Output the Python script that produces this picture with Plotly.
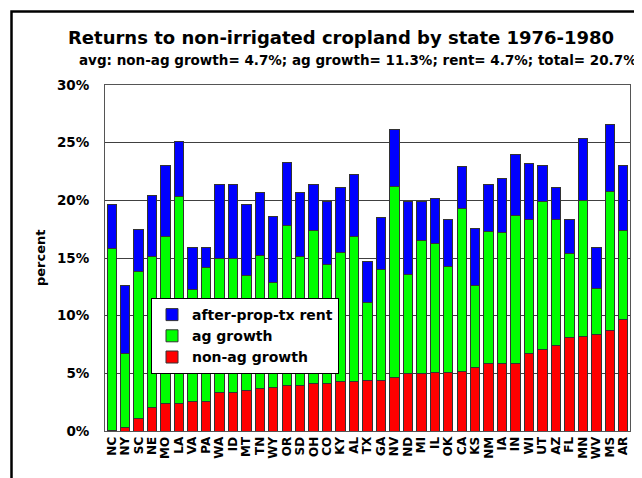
import plotly.graph_objects as go

states = ["NC", "NY", "SC", "NE", "MO", "LA", "VA", "PA", "WA", "ID",
          "MT", "TN", "WY", "OR", "SD", "OH", "CO", "KY", "AL", "TX",
          "GA", "NV", "ND", "MI", "IL", "OK", "CA", "KS", "NM", "IA",
          "IN", "WI", "UT", "AZ", "FL", "MN", "WV", "MS", "AR"]

non_ag_growth = [0.05, 0.29, 1.07, 2.08, 2.37, 2.37, 2.6, 2.6, 3.38, 3.38,
                 3.53, 3.67, 3.8, 3.96, 3.96, 4.1, 4.1, 4.25, 4.25, 4.35,
                 4.4, 4.6, 4.97, 4.97, 5.06, 5.06, 5.2, 5.49, 5.84, 5.84,
                 5.84, 6.76, 7.05, 7.43, 8.09, 8.21, 8.35, 8.73, 9.65]

ag_growth = [15.75, 6.41, 12.72, 13.01, 14.53, 17.92, 9.65, 11.56, 11.56, 11.56,
             9.97, 11.56, 9.1, 13.84, 11.13, 13.3, 10.35, 11.21, 12.65, 6.83,
             9.6, 16.6, 8.58, 11.56, 11.24, 9.24, 14.08, 7.14, 11.46, 11.36,
             12.86, 11.56, 12.86, 10.89, 7.34, 11.79, 3.99, 12.07, 7.75]

rent = [3.85, 5.93, 3.67, 5.34, 6.13, 4.81, 3.65, 1.74, 6.42, 6.42,
        6.15, 5.43, 5.7, 5.5, 5.61, 3.96, 5.41, 5.64, 5.35, 3.52,
        4.55, 4.96, 6.31, 3.33, 3.9, 4.05, 3.67, 4.97, 4.06, 4.68,
        5.29, 4.86, 3.12, 2.78, 2.92, 5.38, 3.56, 5.8, 5.63]

FONT = "DejaVu Sans, Verdana, sans-serif"
outline = dict(color="#333333", width=1)

# page body has an 8px margin, so the figure is drawn 8px smaller
# and the plot box (105..630 x 85..431 in the window) is kept in place
PX0, PX1, PY0, PY1 = 105, 630, 85, 431


def px(x):
    return (x - PX0) / (PX1 - PX0)


def py(y):
    return (PY1 - y) / (PY1 - PY0)


fig = go.Figure()
fig.add_trace(go.Bar(x=states, y=non_ag_growth, name="non-ag growth",
                     marker=dict(color="#ff0000", line=outline)))
fig.add_trace(go.Bar(x=states, y=ag_growth, name="ag growth",
                     marker=dict(color="#00ff00", line=outline)))
fig.add_trace(go.Bar(x=states, y=rent, name="after-prop-tx rent",
                     marker=dict(color="#0000ff", line=outline)))

fig.update_layout(
    width=634, height=470,
    margin=dict(l=PX0 - 8, r=642 - PX1, t=PY0 - 8, b=478 - PY1),
    barmode="stack", bargap=0.3,
    paper_bgcolor="white", plot_bgcolor="white",
    font=dict(family=FONT, color="black", size=12),
    showlegend=True,
    legend=dict(x=px(151), y=py(298), xanchor="left", yanchor="top",
                traceorder="reversed", bgcolor="white",
                bordercolor="black", borderwidth=1,
                font=dict(size=14, weight="bold", family=FONT)),
    annotations=[
        dict(text="Returns to non-irrigated cropland by state 1976-1980",
             xref="paper", yref="paper", x=px(341), y=py(38),
             xanchor="center", yanchor="middle", showarrow=False,
             font=dict(size=18, weight="bold", family=FONT)),
        dict(text="avg: non-ag growth= 4.7%; ag growth= 11.3%; rent= 4.7%; total= 20.7%",
             xref="paper", yref="paper", x=px(358), y=py(60),
             xanchor="center", yanchor="middle", showarrow=False,
             font=dict(size=13.5, weight="bold", family=FONT)),
        dict(text="percent", textangle=-90,
             xref="paper", yref="paper", x=px(40), y=py(258),
             xanchor="center", yanchor="middle", showarrow=False,
             font=dict(size=13, weight="bold", family=FONT)),
    ],
    shapes=[
        dict(type="rect", xref="paper", yref="paper",
             x0=px(11.5), x1=1.1, y0=-0.3, y1=py(11.5),
             line=dict(color="black", width=2.5)),
    ],
)

fig.update_xaxes(tickangle=-90, showgrid=False, dtick=1, automargin=False,
                 showline=True, linecolor="#555555", linewidth=1, mirror=True,
                 tickfont=dict(size=12, weight="bold", family=FONT))
fig.update_yaxes(range=[0, 30], dtick=5, ticksuffix="%", automargin=False,
                 showgrid=True, gridcolor="#404040", gridwidth=1,
                 showline=True, linecolor="#555555", linewidth=1, mirror=True,
                 zeroline=False, ticklabelstandoff=12,
                 tickfont=dict(size=13.5, weight="bold", family=FONT))

fig.write_html("out.html")
